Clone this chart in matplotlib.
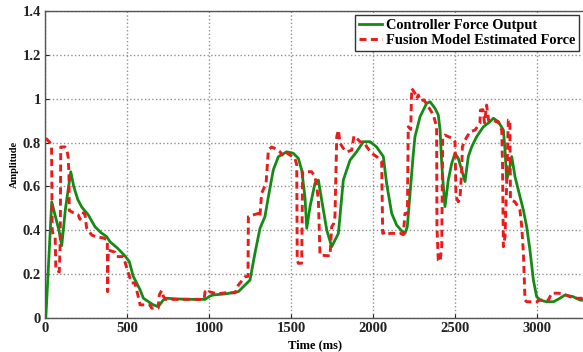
import numpy as np
import matplotlib
matplotlib.use("Agg")
import matplotlib.pyplot as plt

plt.rcParams['font.family'] = ['Liberation Serif', 'DejaVu Serif']
plt.rcParams['font.weight'] = 'bold'

# ── data (time in ms, amplitude) ────────────────────────────────────
ctrl_t = [5, 41, 61, 85, 102, 125, 157, 175, 200, 224, 264, 305, 340, 376, 396,
          440, 488, 514, 538, 579, 600, 660, 691, 721, 742, 800, 900, 976, 1006,
          1026, 1100, 1179, 1250, 1280, 1311, 1341, 1362, 1392, 1423, 1474, 1514,
          1545, 1565, 1585, 1596, 1616, 1646, 1667, 1687, 1718, 1748, 1789, 1819,
          1860, 1900, 1941, 1982, 2022, 2063, 2083, 2114, 2144, 2175, 2195, 2209,
          2226, 2246, 2256, 2287, 2327, 2348, 2378, 2398, 2409, 2419, 2429, 2439,
          2459, 2480, 2500, 2520, 2541, 2561, 2581, 2602, 2632, 2673, 2713, 2734,
          2764, 2795, 2805, 2815, 2835, 2846, 2866, 2886, 2917, 2937, 2957, 2978,
          2998, 3018, 3059, 3100, 3140, 3171, 3221, 3262, 3300]
ctrl_y = [0.0, 0.53, 0.47, 0.40, 0.33, 0.50, 0.667, 0.60, 0.54, 0.506, 0.47, 0.416,
          0.39, 0.371, 0.348, 0.32, 0.283, 0.257, 0.19, 0.13, 0.09, 0.06, 0.052,
          0.082, 0.09, 0.087, 0.085, 0.085, 0.10, 0.105, 0.11, 0.12, 0.173, 0.295,
          0.409, 0.462, 0.553, 0.675, 0.736, 0.758, 0.751, 0.728, 0.675, 0.553,
          0.409, 0.508, 0.614, 0.629, 0.538, 0.401, 0.325, 0.386, 0.629, 0.72,
          0.758, 0.804, 0.804, 0.78, 0.736, 0.614, 0.477, 0.424, 0.397, 0.386,
          0.416, 0.569, 0.751, 0.827, 0.918, 0.979, 0.986, 0.956, 0.926, 0.857,
          0.705, 0.599, 0.508, 0.629, 0.705, 0.751, 0.728, 0.675, 0.622, 0.736,
          0.781, 0.827, 0.872, 0.895, 0.911, 0.895, 0.857, 0.766, 0.629, 0.69,
          0.736, 0.644, 0.584, 0.492, 0.416, 0.31, 0.173, 0.097, 0.082, 0.074,
          0.074, 0.09, 0.105, 0.097, 0.082, 0.08]

fusion_t = [5, 30, 40, 44, 50, 62, 66, 87, 93, 96, 122, 135, 142, 146, 148, 173,
            203, 213, 234, 244, 254, 285, 315, 356, 380, 382, 386, 427, 437, 477,
            490, 508, 528, 548, 569, 580, 640, 650, 690, 697, 711, 721, 735, 800,
            900, 970, 976, 990, 1000, 1050, 1100, 1159, 1179, 1220, 1238, 1240,
            1270, 1301, 1310, 1321, 1348, 1362, 1382, 1410, 1433, 1445, 1460, 1524,
            1535, 1538, 1545, 1565, 1571, 1626, 1646, 1657, 1667, 1677, 1738, 1748,
            1760, 1768, 1779, 1789, 1799, 1819, 1840, 1870, 1884, 1900, 1921, 1950,
            1962, 1992, 2022, 2053, 2059, 2075, 2085, 2104, 2165, 2185, 2195, 2210,
            2215, 2230, 2236, 2256, 2266, 2276, 2290, 2310, 2337, 2368, 2388, 2390,
            2398, 2409, 2419, 2425, 2439, 2480, 2500, 2506, 2520, 2530, 2541, 2545,
            2561, 2591, 2622, 2652, 2655, 2670, 2680, 2693, 2705, 2723, 2754, 2764,
            2785, 2790, 2795, 2805, 2815, 2825, 2835, 2838, 2866, 2896, 2907, 2917,
            2927, 2937, 2998, 3018, 3070, 3089, 3130, 3160, 3201, 3242, 3300]
fusion_y = [0.82, 0.80, 0.78, 0.40, 0.38, 0.37, 0.22, 0.21, 0.35, 0.78, 0.78, 0.76,
            0.73, 0.65, 0.49, 0.48, 0.47, 0.45, 0.48, 0.47, 0.41, 0.378, 0.37, 0.365,
            0.356, 0.12, 0.31, 0.30, 0.28, 0.28, 0.25, 0.205, 0.16, 0.16, 0.097,
            0.06, 0.06, 0.045, 0.045, 0.105, 0.125, 0.10, 0.085, 0.085, 0.085, 0.085,
            0.12, 0.11, 0.12, 0.11, 0.115, 0.115, 0.15, 0.188, 0.19, 0.462, 0.47,
            0.477, 0.46, 0.569, 0.614, 0.766, 0.78, 0.77, 0.758, 0.743, 0.76, 0.728,
            0.698, 0.264, 0.249, 0.25, 0.667, 0.667, 0.644, 0.599, 0.538, 0.287,
            0.283, 0.416, 0.43, 0.462, 0.827, 0.857, 0.797, 0.774, 0.758, 0.765,
            0.83, 0.82, 0.804, 0.80, 0.78, 0.751, 0.736, 0.713, 0.386, 0.39, 0.38,
            0.386, 0.386, 0.38, 0.477, 0.477, 0.872, 0.86, 1.047, 1.025, 1.00, 1.017,
            0.99, 0.995, 0.964, 0.926, 0.872, 0.416, 0.264, 0.257, 0.325, 0.827,
            0.834, 0.82, 0.804, 0.553, 0.53, 0.54, 0.675, 0.781, 0.811, 0.849, 0.857,
            0.888, 0.948, 0.95, 0.89, 0.971, 0.90, 0.903, 0.895, 0.895, 0.857, 0.69,
            0.325, 0.371, 0.614, 0.903, 0.903, 0.538, 0.53, 0.492, 0.416, 0.295,
            0.082, 0.074, 0.074, 0.082, 0.082, 0.113, 0.113, 0.11, 0.097, 0.09, 0.09]

x_ticks = [0, 500, 1000, 1500, 2000, 2500, 3000]
y_ticks = [0, 0.2, 0.4, 0.6, 0.8, 1.0, 1.2, 1.4]
y_tick_labels = ["0", "0.2", "0.4", "0.6", "0.8", "1", "1.2", "1.4"]

# ── figure ──────────────────────────────────────────────────────────
W, H = 583, 352
fig = plt.figure(figsize=(W / 100, H / 100), dpi=100)
x_max = 3400
ax_w = x_max * 0.164  # pixels
ax = fig.add_axes([45 / W, 34 / H, ax_w / W, 307 / H])

ax.plot(ctrl_t, ctrl_y, color="#168a16", linewidth=2.0,
        label="Controller Force Output", zorder=3)
ax.plot(fusion_t, fusion_y, color="#e81c1c", linewidth=2.1,
        dashes=(2.4, 1.5), label="Fusion Model Estimated Force", zorder=4)

ax.set_xlim(0, x_max)
ax.set_ylim(0, 1.4)
ax.set_xticks(x_ticks)
ax.set_xticklabels([str(v) for v in x_ticks])
ax.set_yticks(y_ticks)
ax.set_yticklabels(y_tick_labels)
ax.tick_params(direction="in", length=3, labelsize=10.5, pad=3, colors="#222222")

ax.grid(True, color="#909090", linestyle=":", linewidth=1.0)
ax.set_axisbelow(True)
for s in ax.spines.values():
    s.set_color("#555555")
    s.set_linewidth(1.0)

ax.set_xlabel("Time (ms)", fontsize=9, fontweight="bold", labelpad=2)
ax.set_ylabel("Amplitude", fontsize=7.5, fontweight="bold", labelpad=4)
ax.xaxis.set_label_coords(270 / ax_w, -21 / 307)
ax.yaxis.set_label_coords(-26 / ax_w, 0.5)

leg = ax.legend(loc="upper left", bbox_to_anchor=(355 / W, 1 - 15 / H),
                bbox_transform=fig.transFigure, borderaxespad=0,
                fancybox=False, framealpha=1, edgecolor="#333333",
                handlelength=1.6, handletextpad=0.3, borderpad=0.25,
                labelspacing=0.15, prop={"size": 10.4, "weight": "bold"})
leg.get_frame().set_linewidth(1.0)

fig.savefig("out.png", dpi=100)
